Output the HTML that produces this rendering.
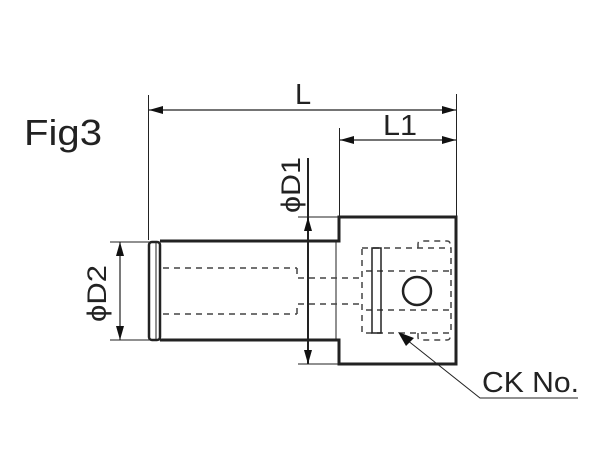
<!DOCTYPE html>
<html><head><style>html,body{margin:0;padding:0;background:#fff}svg{display:block}</style></head>
<body>
<svg width="600" height="462" viewBox="0 0 600 462" xmlns="http://www.w3.org/2000/svg" font-family="Liberation Sans, sans-serif">
<defs>
<marker id="a" markerWidth="14" markerHeight="8" refX="14" refY="4" orient="auto-start-reverse" markerUnits="userSpaceOnUse"><path d="M0,0 L14,4 L0,8 Z" fill="#111"/></marker>
</defs>
<text x="24" y="145" font-size="36" fill="#222" textLength="78" lengthAdjust="spacingAndGlyphs">Fig3</text>
<g stroke="#222" stroke-width="1" fill="none">
<line x1="148.5" y1="95" x2="148.5" y2="240"/>
<line x1="339.5" y1="128" x2="339.5" y2="217"/>
<line x1="456.5" y1="94" x2="456.5" y2="217"/>
<line x1="149" y1="110" x2="456" y2="110" stroke-width="1.2" marker-start="url(#a)" marker-end="url(#a)"/>
<line x1="340" y1="140" x2="456" y2="140" stroke-width="1.2" marker-start="url(#a)" marker-end="url(#a)"/>
<line x1="298" y1="217" x2="339" y2="217"/>
<line x1="298" y1="364" x2="339" y2="364"/>
<line x1="110" y1="242" x2="160" y2="242"/>
<line x1="110" y1="340" x2="160" y2="340"/>
<line x1="120" y1="242" x2="120" y2="340" stroke-width="1.2" marker-start="url(#a)" marker-end="url(#a)"/>
<line x1="308" y1="158" x2="308" y2="364" stroke-width="2" marker-end="url(#a)"/>
<line x1="308" y1="260" x2="308" y2="217" stroke-width="2" marker-end="url(#a)"/>
</g>
<text x="295" y="104" font-size="29" fill="#222">L</text>
<text x="383" y="135" font-size="29" fill="#222" textLength="34" lengthAdjust="spacingAndGlyphs">L1</text>
<text transform="translate(300,213) rotate(-90)" font-size="27" fill="#222" textLength="56" lengthAdjust="spacingAndGlyphs">ϕD1</text>
<text transform="translate(106,322) rotate(-90)" font-size="27" fill="#222" textLength="57" lengthAdjust="spacingAndGlyphs">ϕD2</text>
<g stroke="#222" fill="none">
<path d="M160,241 L339,241 L339,217 L456,217 L456,364 L339,364 L339,340 L160,340" stroke-width="3"/>
<rect x="149" y="242" width="11" height="98" rx="3" stroke-width="2.5"/>
<line x1="156" y1="243" x2="156" y2="339" stroke-width="1"/>
<line x1="336" y1="242" x2="336" y2="339" stroke-width="1"/>
<g stroke-dasharray="6,5" stroke-width="1.5" stroke="#444">
<line x1="163" y1="268" x2="297" y2="268"/>
<line x1="163" y1="314" x2="297" y2="314"/>
<path d="M297,268 L297,278 L362,278 M297,314 L297,304 L362,304"/>
<rect x="362" y="248" width="89" height="85"/>
<line x1="366" y1="271" x2="451" y2="271"/>
<line x1="366" y1="310" x2="451" y2="310"/>
<path d="M418,248 L418,244 Q418,241 421,241 L447,241 Q450,241 450,244 L450,248 M418,333 L418,337 Q418,340 421,340 L447,340 Q450,340 450,337 L450,333"/>
</g>
<rect x="372" y="248" width="9" height="85" stroke-width="1.5"/>
<circle cx="417" cy="291" r="14" stroke-width="2.5"/>
<path d="M402,336 L480,398 L578,398" stroke-width="1"/>
</g>
<path d="M398,332 L414,338 L406,346 Z" fill="#111"/>
<text x="482" y="392" font-size="29" fill="#222" textLength="97" lengthAdjust="spacingAndGlyphs">CK No.</text>
</svg>
</body></html>
